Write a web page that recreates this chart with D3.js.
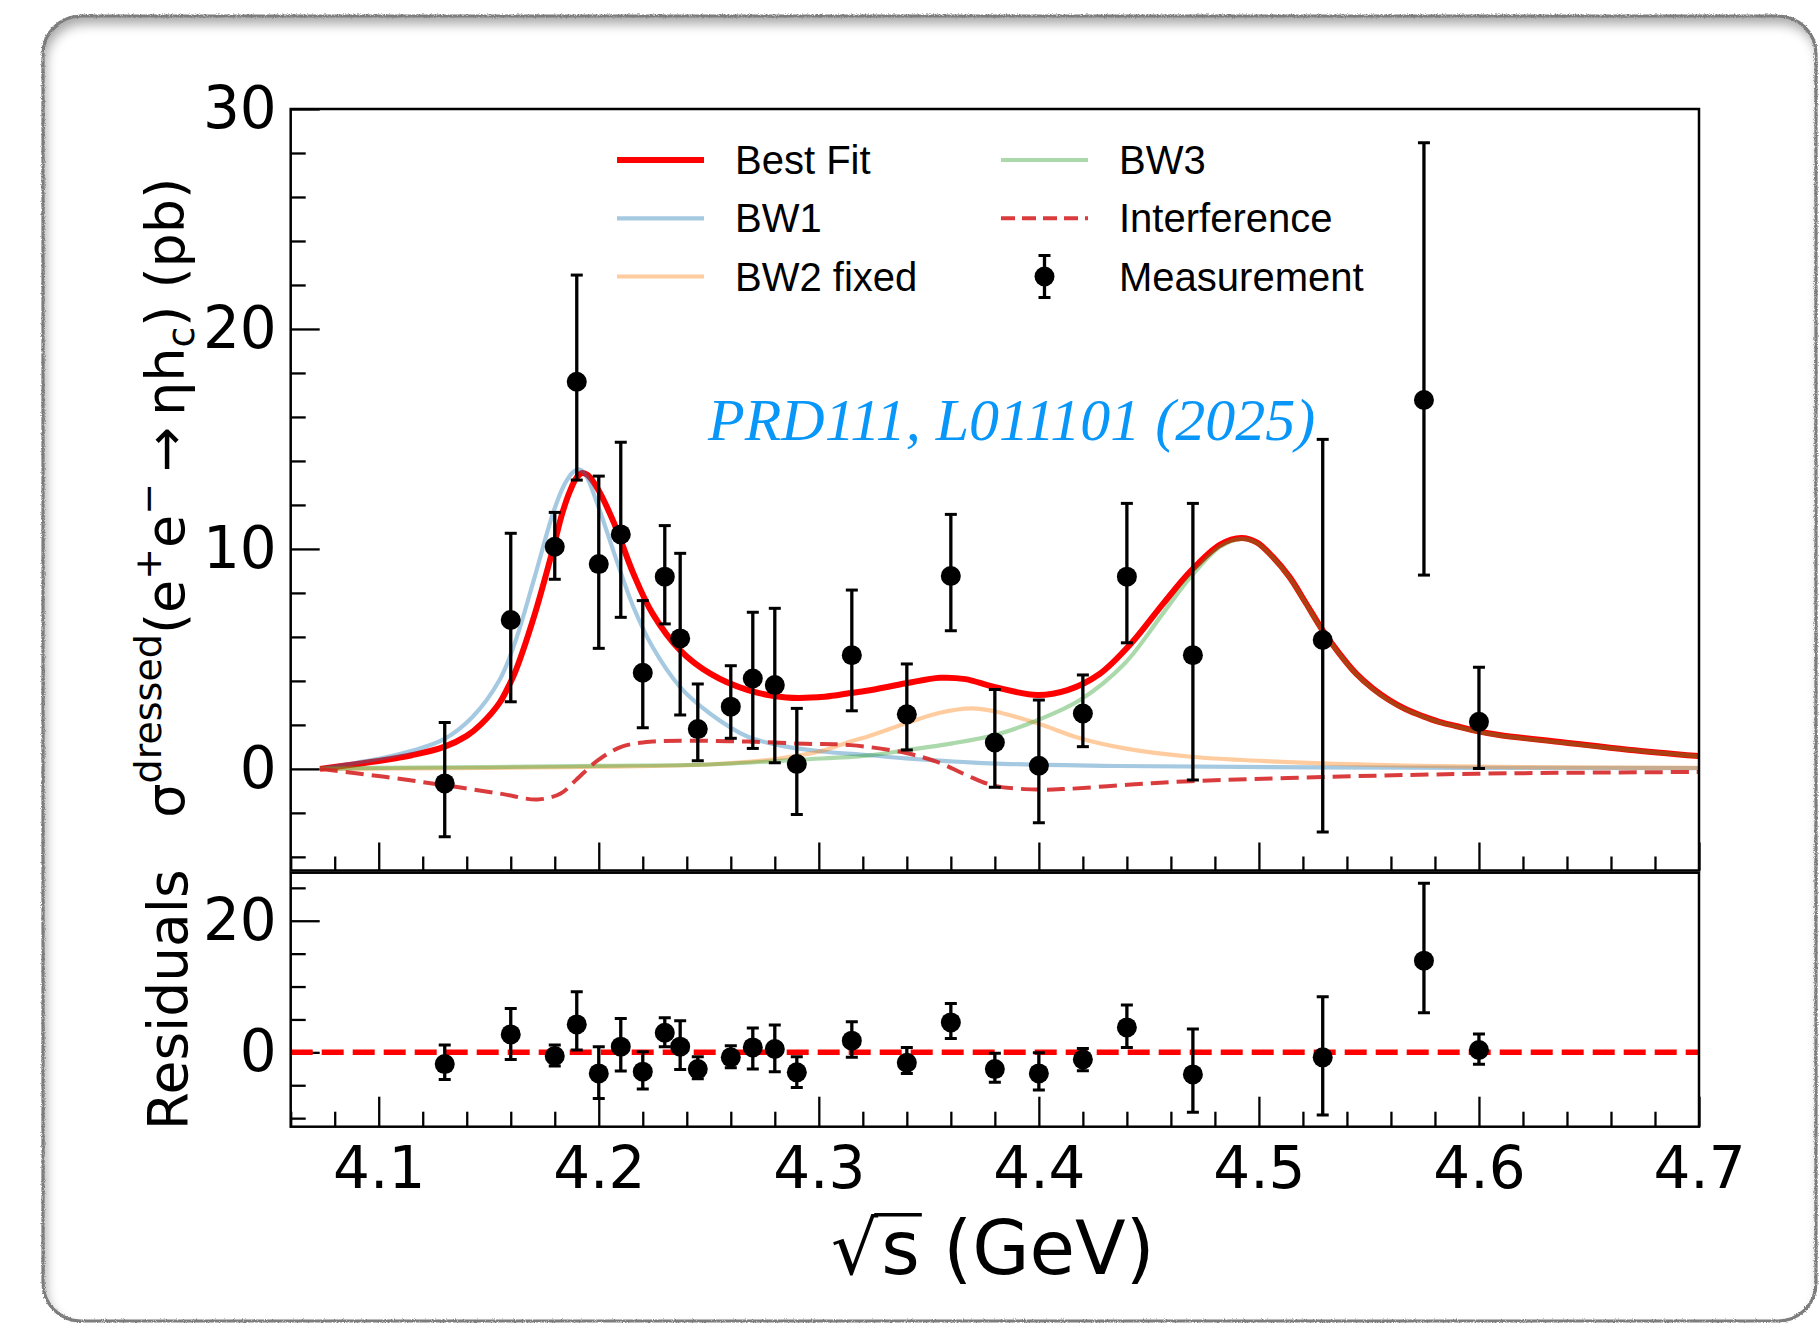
<!DOCTYPE html>
<html>
<head>
<meta charset="utf-8">
<script src="https://cdn.jsdelivr.net/npm/d3@7"></script>
<style>
  html, body { margin: 0; padding: 0; background: #fff; }
  svg { display: block; }
</style>
</head>
<body>
<svg id="chart" width="1819" height="1323"></svg>
<script>
// ---- measured cross section of e+e- -> eta h_c ----
const energy = [4.130, 4.160, 4.180, 4.190, 4.200, 4.210, 4.220, 4.230, 4.237, 4.245,
                4.260, 4.270, 4.280, 4.290, 4.315, 4.340, 4.360, 4.380, 4.400, 4.420,
                4.440, 4.470, 4.529, 4.575, 4.600];
const sigma = [-0.66, 6.77, 10.10, 17.60, 9.31, 10.66, 4.37, 8.74, 5.93, 1.81,
               2.83, 4.11, 3.81, 0.22, 5.17, 2.48, 8.77, 1.20, 0.14, 2.52,
               8.74, 5.17, 5.86, 16.77, 2.14];
const sigmaErrUp = [2.77, 3.94, 1.56, 4.85, 4.00, 4.19, 3.28, 2.32, 3.87, 2.05,
                    1.86, 3.01, 3.49, 2.53, 2.96, 2.29, 2.80, 2.41, 2.99, 1.75,
                    3.33, 6.90, 9.12, 11.70, 2.48];
const sigmaErrDown = [2.43, 3.72, 1.48, 4.47, 3.83, 3.77, 2.50, 2.15, 3.48, 1.44,
                      1.44, 3.18, 3.53, 2.29, 2.53, 1.62, 2.49, 2.04, 2.59, 1.51,
                      3.01, 5.68, 8.73, 7.96, 2.12];

// ---- residuals ----
const residual = [-1.78, 2.73, -0.56, 4.25, -3.20, 0.86, -2.94, 2.98, 0.86, -2.54,
                  -0.76, 0.75, 0.50, -3.04, 1.77, -1.58, 4.55, -2.54, -3.20, -1.07,
                  3.79, -3.35, -0.76, 13.93, 0.35];
const residualErrUp = [2.89, 3.95, 1.67, 4.97, 4.06, 4.30, 3.04, 2.28, 3.95, 1.88,
                       1.77, 2.94, 3.65, 2.38, 2.89, 2.33, 2.89, 2.39, 3.15, 1.67,
                       3.40, 6.89, 9.21, 11.75, 2.43];
const residualErrDown = [2.33, 3.80, 1.52, 3.90, 3.80, 3.70, 2.64, 2.12, 3.45, 1.46,
                         1.57, 3.29, 3.44, 2.29, 2.53, 1.62, 2.43, 2.02, 2.52, 1.72,
                         3.04, 5.77, 8.77, 7.91, 2.17];

// ---- fit curves, [sqrt(s) GeV, sigma pb] ----
const bestFit = [[4.0733,0],[4.085,0.15],[4.1027,0.40],[4.115,0.62],[4.1297,1.00],[4.1400,1.50],
  [4.1462,2.00],[4.1549,3.00],[4.1597,3.90],[4.1618,4.35],[4.1705,6.90],[4.1792,10.00],
  [4.1835,11.65],[4.1870,12.65],[4.1900,13.25],[4.1925,13.45],[4.1950,13.35],[4.1997,12.70],
  [4.2070,11.16],[4.2157,8.89],[4.2244,7.07],[4.2369,5.40],[4.2505,4.34],[4.2678,3.58],
  [4.2852,3.25],[4.3026,3.28],[4.3144,3.45],[4.3217,3.55],[4.3397,3.89],[4.3550,4.14],
  [4.3666,4.08],[4.3796,3.73],[4.3993,3.36],[4.4130,3.58],[4.4274,4.30],[4.4419,5.70],
  [4.4564,7.50],[4.4691,9.00],[4.4824,10.20],[4.4920,10.50],[4.4990,10.30],[4.5062,9.65],
  [4.5138,8.74],[4.5214,7.53],[4.5289,6.31],[4.5365,5.25],[4.5441,4.34],[4.5517,3.66],
  [4.5592,3.13],[4.5668,2.71],[4.5744,2.40],[4.5819,2.14],[4.5895,1.95],[4.5970,1.76],
  [4.6092,1.54],[4.6388,1.20],[4.6678,0.87],[4.7000,0.58]];
const bw1 = [[4.0733,0],[4.090,0.28],[4.1027,0.52],[4.116,0.85],[4.1297,1.35],[4.1427,2.37],
  [4.1549,4.04],[4.1618,5.71],[4.1705,8.59],[4.1792,11.62],[4.1840,12.85],[4.1879,13.45],
  [4.1905,13.62],[4.1935,13.45],[4.1997,11.95],[4.2070,9.80],[4.2157,7.37],[4.2244,5.55],
  [4.2369,3.73],[4.2505,2.52],[4.2678,1.46],[4.2852,1.01],[4.3026,0.78],[4.3217,0.63],
  [4.3397,0.48],[4.3780,0.25],[4.4361,0.13],[4.5232,0.07],[4.7000,0.03]];
const bw2Fixed = [[4.0733,0],[4.150,0.05],[4.200,0.10],[4.250,0.20],[4.2765,0.40],[4.2913,0.62],
  [4.3026,0.85],[4.3144,1.25],[4.3217,1.45],[4.3397,2.07],[4.3550,2.55],[4.3695,2.75],
  [4.3796,2.62],[4.3993,2.07],[4.4187,1.39],[4.4390,0.93],[4.4691,0.55],[4.5289,0.25],
  [4.5989,0.10],[4.7000,0.05]];
const bw3 = [[4.0733,0],[4.100,0.05],[4.150,0.08],[4.200,0.14],[4.250,0.20],[4.2913,0.42],
  [4.3217,0.60],[4.3397,0.85],[4.3600,1.15],[4.3796,1.53],[4.3993,2.21],[4.4187,3.13],
  [4.4390,4.79],[4.4564,7.07],[4.4691,8.74],[4.4824,10.10],[4.4920,10.46],[4.4990,10.27],
  [4.5062,9.62],[4.5138,8.71],[4.5214,7.50],[4.5289,6.28],[4.5365,5.22],[4.5441,4.31],
  [4.5517,3.63],[4.5592,3.10],[4.5668,2.69],[4.5744,2.38],[4.5819,2.12],[4.5895,1.93],
  [4.5970,1.74],[4.6092,1.52],[4.6388,1.18],[4.6678,0.86],[4.7000,0.57]];
const interference = [[4.0733,0],[4.1027,-0.36],[4.1297,-0.74],[4.1549,-1.12],[4.1723,-1.39],
  [4.1827,-1.12],[4.1897,-0.50],[4.1997,0.40],[4.2105,1.01],[4.2244,1.24],[4.2418,1.28],
  [4.2678,1.24],[4.2939,1.14],[4.3144,1.08],[4.3397,0.72],[4.3550,0.27],[4.3666,-0.26],
  [4.3796,-0.76],[4.3993,-0.94],[4.4130,-0.91],[4.4419,-0.71],[4.4691,-0.56],[4.5288,-0.37],
  [4.5989,-0.22],[4.7000,-0.14]];

// ---- axis ticks ----
const xTicks = [4.1, 4.2, 4.3, 4.4, 4.5, 4.6, 4.7];
const xTickLabels = ["4.1", "4.2", "4.3", "4.4", "4.5", "4.6", "4.7"];
const yTicks = [0, 10, 20, 30];
const yTickLabels = ["0", "10", "20", "30"];
const resTicks = [0, 20];
const resTickLabels = ["0", "20"];

const legendLabels = ["Best Fit", "BW1", "BW2 fixed", "BW3", "Interference", "Measurement"];

// ---------------------------------------------------------------
const svg = d3.select("#chart");
const W = 1819, H = 1323;
const defs = svg.append("defs");

svg.append("rect").attr("width", W).attr("height", H).attr("fill", "#fff");

// rounded frame around the figure
const card = { x: 43, y: 16, w: 1773, h: 1305, r: 38 };
function roundedRectPath(b) {
  const { x, y, w, h, r } = b;
  return `M${x + r},${y}H${x + w - r}A${r},${r} 0 0 1 ${x + w},${y + r}V${y + h - r}` +
         `A${r},${r} 0 0 1 ${x + w - r},${y + h}H${x + r}A${r},${r} 0 0 1 ${x},${y + h - r}` +
         `V${y + r}A${r},${r} 0 0 1 ${x + r},${y}Z`;
}
defs.append("clipPath").attr("id", "cardClip").append("path").attr("d", roundedRectPath(card));
defs.append("filter").attr("id", "soft").attr("x", "-10%").attr("y", "-10%")
  .attr("width", "120%").attr("height", "120%")
  .append("feGaussianBlur").attr("stdDeviation", 6);
const rough = defs.append("filter").attr("id", "rough").attr("x", "-2%").attr("y", "-2%")
  .attr("width", "104%").attr("height", "104%");
rough.append("feTurbulence").attr("type", "fractalNoise").attr("baseFrequency", 0.9)
  .attr("numOctaves", 2).attr("seed", 3).attr("result", "noise");
rough.append("feDisplacementMap").attr("in", "SourceGraphic").attr("in2", "noise")
  .attr("scale", 3.2).attr("xChannelSelector", "R").attr("yChannelSelector", "G");

// inner shadow along the top and left edges
svg.append("g").attr("clip-path", "url(#cardClip)")
  .append("path")
  .attr("d", `M-300,-300H${W + 300}V${H + 300}H-300Z` + roundedRectPath(card))
  .attr("fill-rule", "evenodd")
  .attr("fill", "#000")
  .attr("opacity", 0.34)
  .attr("transform", "translate(3,8)")
  .attr("filter", "url(#soft)");
svg.append("path").attr("d", roundedRectPath(card))
  .attr("fill", "none").attr("stroke", "#7d7d7d").attr("stroke-width", 3.2)
  .attr("filter", "url(#rough)");

// ---- geometry ----
const P = { left: 290.7, right: 1699, top: 109, mid: 870.5, resTop: 872.7, bottom: 1126.7 };
const x = d3.scaleLinear().domain([4.06, 4.70]).range([P.left, P.right]);
const y = d3.scaleLinear().domain([-4.62, 30]).range([P.mid, P.top]);
const yr = d3.scaleLinear().domain([-11.3, 27.3]).range([P.bottom, P.resTop]);

defs.append("clipPath").attr("id", "mainClip").append("rect")
  .attr("x", P.left).attr("y", P.top).attr("width", P.right - P.left).attr("height", P.mid - P.top);
defs.append("clipPath").attr("id", "resClip").append("rect")
  .attr("x", P.left).attr("y", P.resTop).attr("width", P.right - P.left).attr("height", P.bottom - P.resTop);

const tickFont = "'DejaVu Sans', sans-serif";

// ---- axes ----
function styleAxis(g) {
  g.select(".domain").remove();
  g.selectAll(".tick line").attr("stroke", "#000").attr("stroke-width", 2.3);
  g.selectAll(".tick text").attr("fill", "#000").attr("font-family", tickFont).attr("font-size", 58);
}
const minorX = d3.range(4.06, 4.7001, 0.02).filter(v => Math.abs(Math.round(v * 10) - v * 10) > 1e-6);

// top panel
svg.append("g").attr("transform", `translate(${P.left},0)`)
  .call(d3.axisLeft(y).tickValues(d3.range(-4, 30.001, 2).filter(v => v % 10 !== 0)).tickSize(-15).tickFormat(""))
  .call(styleAxis);
svg.append("g").attr("transform", `translate(${P.left},0)`)
  .call(d3.axisLeft(y).tickValues(yTicks).tickSize(-29).tickPadding(14).tickFormat((d, i) => yTickLabels[i]))
  .call(styleAxis);
svg.append("g").attr("transform", `translate(0,${P.mid})`)
  .call(d3.axisBottom(x).tickValues(minorX).tickSize(-14).tickFormat(""))
  .call(styleAxis);
svg.append("g").attr("transform", `translate(0,${P.mid})`)
  .call(d3.axisBottom(x).tickValues(xTicks).tickSize(-28).tickFormat(""))
  .call(styleAxis);

// residual panel
svg.append("g").attr("transform", `translate(${P.left},0)`)
  .call(d3.axisLeft(yr).tickValues([-10, -5, 5, 10, 15, 25]).tickSize(-15).tickFormat(""))
  .call(styleAxis);
svg.append("g").attr("transform", `translate(${P.left},0)`)
  .call(d3.axisLeft(yr).tickValues(resTicks).tickSize(-29).tickPadding(14).tickFormat((d, i) => resTickLabels[i]))
  .call(styleAxis);
svg.append("g").attr("transform", `translate(0,${P.bottom})`)
  .call(d3.axisBottom(x).tickValues(minorX).tickSize(-15).tickFormat(""))
  .call(styleAxis);
svg.append("g").attr("transform", `translate(0,${P.bottom})`)
  .call(d3.axisBottom(x).tickValues(xTicks).tickSize(-30).tickPadding(20).tickFormat((d, i) => xTickLabels[i]))
  .call(styleAxis);

// ---- fit curves ----
const line = d3.line().x(d => x(d[0])).y(d => y(d[1])).curve(d3.curveCatmullRom.alpha(0.5));
const curves = svg.append("g").attr("clip-path", "url(#mainClip)").attr("fill", "none")
  .attr("stroke-linejoin", "round").attr("stroke-linecap", "butt");
curves.append("path").attr("d", line(bestFit)).attr("stroke", "#ff0000").attr("stroke-width", 6);
curves.append("path").attr("d", line(bw1)).attr("stroke", "#1f77b4").attr("stroke-opacity", 0.4).attr("stroke-width", 4.2);
curves.append("path").attr("d", line(bw2Fixed)).attr("stroke", "#ff7f0e").attr("stroke-opacity", 0.4).attr("stroke-width", 4.2);
curves.append("path").attr("d", line(bw3)).attr("stroke", "#2ca02c").attr("stroke-opacity", 0.4).attr("stroke-width", 4.2);
curves.append("path").attr("d", line(interference)).attr("stroke", "#d62728").attr("stroke-opacity", 0.9)
  .attr("stroke-width", 4).attr("stroke-dasharray", "18 8");

// residual reference line
svg.append("line").attr("x1", P.left).attr("x2", P.right).attr("y1", yr(0)).attr("y2", yr(0))
  .attr("stroke", "#ff0000").attr("stroke-width", 5.5).attr("stroke-dasharray", "22 9");

// ---- measurement points ----
function drawPoints(g, values, up, down, scale) {
  const pts = energy.map((e, i) => ({ e, v: values[i], hi: values[i] + up[i], lo: values[i] - down[i] }));
  g.selectAll("line.bar").data(pts).join("line").attr("class", "bar")
    .attr("x1", d => x(d.e)).attr("x2", d => x(d.e))
    .attr("y1", d => scale(d.hi)).attr("y2", d => scale(d.lo))
    .attr("stroke", "#000").attr("stroke-width", 3.3);
  ["hi", "lo"].forEach(k => {
    g.selectAll("line.cap-" + k).data(pts).join("line").attr("class", "cap-" + k)
      .attr("x1", d => x(d.e) - 6).attr("x2", d => x(d.e) + 6)
      .attr("y1", d => scale(d[k])).attr("y2", d => scale(d[k]))
      .attr("stroke", "#000").attr("stroke-width", 3);
  });
  g.selectAll("circle").data(pts).join("circle")
    .attr("cx", d => x(d.e)).attr("cy", d => scale(d.v)).attr("r", 10).attr("fill", "#000");
}
drawPoints(svg.append("g").attr("clip-path", "url(#mainClip)"), sigma, sigmaErrUp, sigmaErrDown, y);
drawPoints(svg.append("g").attr("clip-path", "url(#resClip)"), residual, residualErrUp, residualErrDown, yr);

// ---- frames ----
[[P.top, P.mid], [P.resTop, P.bottom]].forEach(([t, b]) => {
  svg.append("rect").attr("x", P.left).attr("y", t).attr("width", P.right - P.left).attr("height", b - t)
    .attr("fill", "none").attr("stroke", "#000").attr("stroke-width", 2.5);
});

// ---- legend ----
const legend = svg.append("g").attr("font-family", "'Liberation Sans', Arial, sans-serif").attr("font-size", 40);
const rows = [160, 218.3, 276.5];
const cols = [{ x0: 617, x1: 704, tx: 735 }, { x0: 1001, x1: 1088, tx: 1119 }];
const handles = [
  { stroke: "#ff0000", w: 6, op: 1 },
  { stroke: "#1f77b4", w: 4.2, op: 0.4 },
  { stroke: "#ff7f0e", w: 4.2, op: 0.4 },
  { stroke: "#2ca02c", w: 4.2, op: 0.4 },
  { stroke: "#d62728", w: 4, op: 0.9, dash: "14 7" },
  null
];
legendLabels.forEach((lab, i) => {
  const c = cols[Math.floor(i / 3)], r = rows[i % 3];
  const h = handles[i];
  if (h) {
    legend.append("line").attr("x1", c.x0).attr("x2", c.x1).attr("y1", r).attr("y2", r)
      .attr("stroke", h.stroke).attr("stroke-opacity", h.op).attr("stroke-width", h.w)
      .attr("stroke-dasharray", h.dash || null);
  } else {
    const cx = (c.x0 + c.x1) / 2;
    legend.append("line").attr("x1", cx).attr("x2", cx).attr("y1", r - 21).attr("y2", r + 21)
      .attr("stroke", "#000").attr("stroke-width", 3.3);
    [r - 21, r + 21].forEach(yy => legend.append("line").attr("x1", cx - 6).attr("x2", cx + 6)
      .attr("y1", yy).attr("y2", yy).attr("stroke", "#000").attr("stroke-width", 3));
    legend.append("circle").attr("cx", cx).attr("cy", r).attr("r", 10).attr("fill", "#000");
  }
  legend.append("text").attr("x", c.tx).attr("y", r + 14).attr("fill", "#000").text(lab);
});

// ---- reference note ----
svg.append("text").attr("x", 708).attr("y", 440)
  .attr("font-family", "'Liberation Serif', 'Times New Roman', serif").attr("font-style", "italic")
  .attr("font-size", 60).attr("fill", "#0896f8").text("PRD111, L011101 (2025)");

// ---- axis titles ----
const yl = svg.append("text").attr("transform", `translate(184,${(P.top + P.mid) / 2 + 8}) rotate(-90)`)
  .attr("text-anchor", "middle").attr("font-family", tickFont).attr("font-size", 54).attr("fill", "#000");
const sup = -23, sub = 10;
yl.append("tspan").text("σ");
yl.append("tspan").attr("font-size", 38).attr("dy", sup).text("dressed");
yl.append("tspan").attr("dy", -sup).text("(e");
yl.append("tspan").attr("font-size", 38).attr("dy", sup).text("+");
yl.append("tspan").attr("dy", -sup).text("e");
yl.append("tspan").attr("font-size", 38).attr("dy", sup).text("\u2212");
yl.append("tspan").attr("dy", -sup).text("\u2009\u2192\u2009ηh");
yl.append("tspan").attr("font-size", 38).attr("dy", sub).text("c");
yl.append("tspan").attr("dy", -sub).text(") (pb)");

svg.append("text").attr("transform", `translate(187,${(P.resTop + P.bottom) / 2}) rotate(-90)`)
  .attr("text-anchor", "middle").attr("font-family", tickFont).attr("font-size", 55).attr("fill", "#000")
  .text("Residuals");

// x title with radical sign and overbar
const xfs = 74, xBase = 1274;
const xl = svg.append("text").attr("x", (P.left + P.right) / 2 - 2).attr("y", xBase)
  .attr("text-anchor", "middle").attr("font-family", tickFont).attr("font-size", xfs).attr("fill", "#000");
xl.append("tspan").text("\u221A");
xl.append("tspan").attr("dx", 3).text("s");
xl.append("tspan").text(" (GeV)");
const sExt = xl.node().getExtentOfChar(1);
const rootExt = xl.node().getExtentOfChar(0);
svg.append("line")
  .attr("x1", rootExt.x + rootExt.width - 4).attr("x2", sExt.x + sExt.width + 2)
  .attr("y1", xBase - 0.80 * xfs).attr("y2", xBase - 0.80 * xfs)
  .attr("stroke", "#000").attr("stroke-width", 3.6);
</script>
</body>
</html>
